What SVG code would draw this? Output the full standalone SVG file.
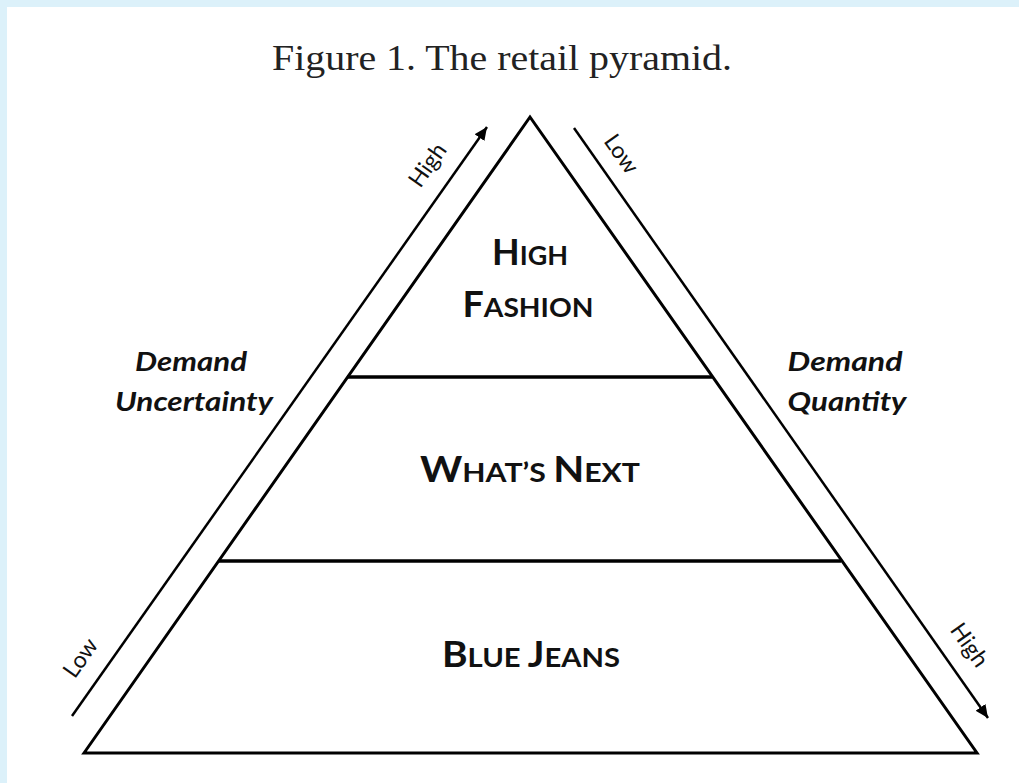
<svg xmlns="http://www.w3.org/2000/svg" width="1019" height="783" viewBox="0 0 1019 783">
  <defs>
    <marker id="arrow" markerUnits="userSpaceOnUse" markerWidth="16" markerHeight="14" refX="13" refY="6" orient="auto">
      <path d="M0,0 L13,6 L0,12 Z" fill="#000"/>
    </marker>
    <style>
      .side { stroke:#000; stroke-width:3; fill:none; stroke-linejoin:miter; }
      .divider { stroke:#000; stroke-width:3.6; }
      .axis { stroke:#000; stroke-width:2.5; fill:none; }
      .tier { font-family:Lato, "Open Sans", sans-serif; font-weight:bold; fill:#111; text-anchor:middle; }
      .big { font-size:36px; }
      .small { font-size:27px; }
      .axislabel { font-family:Lato, "Open Sans", sans-serif; font-size:23px; fill:#111; text-anchor:middle; }
      .side-title { font-family:Lato, "Open Sans", sans-serif; font-weight:bold; font-style:italic; font-size:26px; fill:#111; text-anchor:middle; }
      .title { font-family:"Liberation Serif", serif; font-size:35px; fill:#222; }
    </style>
  </defs>
  <rect x="0" y="0" width="1019" height="783" fill="#dcf1fa"/>
  <rect x="7" y="7" width="1012" height="776" fill="#ffffff"/>

  <g id="title">
    <text class="title" x="272" y="70" textLength="460" lengthAdjust="spacingAndGlyphs">Figure 1. The retail pyramid.</text>
  </g>

  <g id="pyramid">
    <path class="side" d="M84,753 L530,117 L977,753 Z"/>
    <line class="divider" x1="347" y1="377" x2="712" y2="377"/>
    <line class="divider" x1="219" y1="561" x2="841" y2="561"/>
  </g>

  <g id="tier-high-fashion">
    <text class="tier" x="530" y="265" textLength="76" lengthAdjust="spacingAndGlyphs"><tspan class="big">H</tspan><tspan class="small">IGH</tspan></text>
    <text class="tier" x="528" y="317" textLength="131" lengthAdjust="spacingAndGlyphs"><tspan class="big">F</tspan><tspan class="small">ASHION</tspan></text>
  </g>
  <g id="tier-whats-next">
    <text class="tier" x="530" y="482" textLength="220" lengthAdjust="spacingAndGlyphs"><tspan class="big">W</tspan><tspan class="small">HAT’S </tspan><tspan class="big">N</tspan><tspan class="small">EXT</tspan></text>
  </g>
  <g id="tier-blue-jeans">
    <text class="tier" x="531" y="667" textLength="178" lengthAdjust="spacingAndGlyphs"><tspan class="big">B</tspan><tspan class="small">LUE </tspan><tspan class="big">J</tspan><tspan class="small">EANS</tspan></text>
  </g>

  <g id="connectors">
    <line class="axis" x1="72" y1="716" x2="487" y2="127" marker-end="url(#arrow)"/>
    <line class="axis" x1="574" y1="128" x2="988" y2="718" marker-end="url(#arrow)"/>
  </g>

  <g id="axis-uncertainty">
    <text class="side-title" x="191" y="371" textLength="112" lengthAdjust="spacingAndGlyphs">Demand</text>
    <text class="side-title" x="194" y="411" textLength="158" lengthAdjust="spacingAndGlyphs">Uncertainty</text>
    <text class="axislabel" transform="translate(429,166) rotate(-54.8)" x="0" y="6">High</text>
    <text class="axislabel" transform="translate(82,659) rotate(-54.8)" x="0" y="6">Low</text>
  </g>

  <g id="axis-quantity">
    <text class="side-title" x="845" y="371" textLength="115" lengthAdjust="spacingAndGlyphs">Demand</text>
    <text class="side-title" x="847" y="411" textLength="119" lengthAdjust="spacingAndGlyphs">Quantity</text>
    <text class="axislabel" transform="translate(620,155) rotate(54.8)" x="0" y="6">Low</text>
    <text class="axislabel" transform="translate(968,646) rotate(54.8)" x="0" y="6">High</text>
  </g>
</svg>
